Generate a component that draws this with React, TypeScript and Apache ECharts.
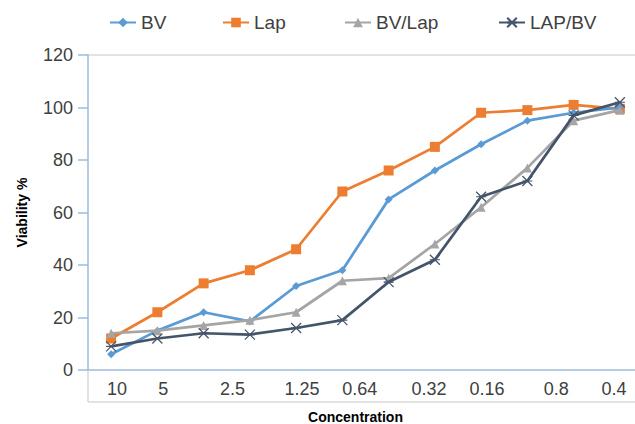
import React, { useEffect, useRef } from "react";
import * as echarts from "echarts";

const categories = ["1", "2", "3", "4", "5", "6", "7", "8", "9", "10", "11", "12"];
const bv = [6, 15, 22, 18.5, 32, 38, 65, 76, 86, 95, 98, 100];
const lap = [12, 22, 33, 38, 46, 68, 76, 85, 98, 99, 101, 99.5];
const bvLap = [14, 15, 17, 19, 22, 34, 35, 48, 62, 77, 95, 99];
const lapBv = [9, 12, 14, 13.5, 16, 19, 33.5, 42, 66, 72, 97, 102];

const seriesNames = ["BV", "Lap", "BV/Lap", "LAP/BV"];

// tick labels placed on a fine (48-slot) label axis
const tickLabels = ["10", "5", "2.5", "1.25", "0.64", "0.32", "0.16", "0.8", "0.4"];
const tickSlots = [2, 6, 12, 18, 23, 29, 34, 40, 45];
const SLOT_COUNT = 48;

const FONT = "Liberation Sans, Arial, sans-serif";

export default function App() {
  const ref = useRef<HTMLDivElement>(null);
  useEffect(() => {
    if (!ref.current) return;
    const chart = echarts.init(ref.current, null, { renderer: "svg" });
    const slotData: string[] = [];
    for (let i = 0; i < SLOT_COUNT; i++) {
      const k = tickSlots.indexOf(i);
      slotData.push(k >= 0 ? tickLabels[k] : "");
    }
    const axisBlue = "#9dbbdc";
    const legendLefts = [104, 217, 339, 493];
    chart.setOption({
      animation: false,
      backgroundColor: "#ffffff",
      textStyle: { fontFamily: FONT },
      legend: seriesNames.map((n, i) => ({
        top: 8,
        left: legendLefts[i],
        itemWidth: 26,
        itemHeight: 12,
        textStyle: { fontSize: 19, color: "#404040", fontFamily: FONT },
        data: [n],
      })),
      grid: { left: 88, top: 55, width: 555, height: 315, outerBoundsMode: "none", containLabel: false },
      xAxis: [
        {
          type: "category",
          data: categories,
          position: "bottom",
          offset: 0,
          axisLine: { show: true, lineStyle: { color: axisBlue, width: 1.5 } },
          axisTick: { show: false },
          axisLabel: { show: false },
        },
        {
          type: "category",
          data: slotData,
          position: "bottom",
          offset: 0,
          axisLine: { show: false },
          axisTick: { show: false },
          axisLabel: {
            interval: 0,
            margin: 10,
            fontSize: 18,
            color: "#404040",
            fontFamily: FONT,
          },
          name: "Concentration",
          nameLocation: "middle",
          nameGap: 40,
          nameMoveOverlap: false,
          nameTextStyle: {
            fontSize: 14,
            fontWeight: "bold",
            color: "#000000",
            fontFamily: FONT,
            padding: [0, 20, 0, 0],
          },
        },
      ],
      yAxis: {
        type: "value",
        min: 0,
        max: 120,
        interval: 20,
        axisLine: { show: true, lineStyle: { color: axisBlue, width: 1.5 } },
        axisTick: { show: true, length: 10, lineStyle: { color: axisBlue, width: 1.5 } },
        axisLabel: { margin: 15, fontSize: 18, color: "#404040", fontFamily: FONT },
        splitLine: {
          show: true,
          lineStyle: {
            color: [
              "rgba(0,0,0,0)",
              "rgba(0,0,0,0)",
              "rgba(0,0,0,0)",
              "rgba(0,0,0,0)",
              "rgba(0,0,0,0)",
              "rgba(0,0,0,0)",
              "#d9d9d9",
            ],
            width: 1.5,
          },
        },
        name: "Viability %",
        nameLocation: "middle",
        nameGap: 59,
        nameMoveOverlap: false,
        nameTextStyle: { fontSize: 14, fontWeight: "bold", color: "#000000", fontFamily: FONT },
      },
      graphic: [
        {
          type: "line",
          shape: { x1: 88, y1: 371, x2: 88, y2: 402 },
          style: { stroke: "#d9d9d9", lineWidth: 1.5 },
          silent: true,
        },
        {
          type: "line",
          shape: { x1: 88, y1: 402, x2: 635, y2: 402 },
          style: { stroke: "#d9d9d9", lineWidth: 1.5 },
          silent: true,
        },
      ],
      series: [
        {
          name: "BV",
          type: "line",
          data: bv,
          symbol: "diamond",
          symbolSize: 8,
          lineStyle: { color: "#5b9bd5", width: 2.75 },
          itemStyle: { color: "#5b9bd5" },
          z: 3,
        },
        {
          name: "Lap",
          type: "line",
          data: lap,
          symbol: "rect",
          symbolSize: 10,
          lineStyle: { color: "#ed7d31", width: 2.75 },
          itemStyle: { color: "#ed7d31" },
          z: 2,
        },
        {
          name: "BV/Lap",
          type: "line",
          data: bvLap,
          symbol: "triangle",
          symbolSize: 9,
          lineStyle: { color: "#a5a5a5", width: 2.75 },
          itemStyle: { color: "#a5a5a5" },
          z: 4,
        },
        {
          name: "LAP/BV",
          type: "line",
          data: lapBv,
          symbol: "path://M0,0L10,10M10,0L0,10M0,5L10,5",
          symbolSize: 10,
          lineStyle: { color: "#44546a", width: 2.75 },
          itemStyle: { color: "#44546a", borderColor: "#44546a", borderWidth: 1.2 },
          z: 5,
        },
      ],
    });
    return () => chart.dispose();
  }, []);
  return (
    <div
      ref={ref}
      style={{ position: "fixed", left: 0, top: 0, width: 635, height: 424, background: "#fff" }}
    />
  );
}
